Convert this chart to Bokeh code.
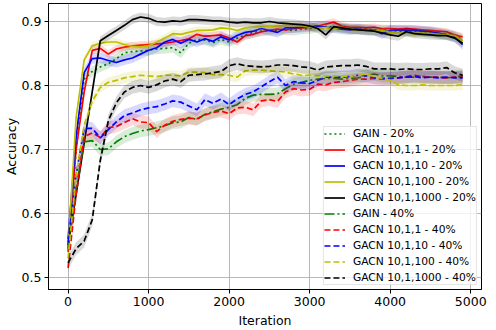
from bokeh.plotting import figure
from bokeh.models import Range1d, Legend, LegendItem, FixedTicker
from bokeh.embed import file_html
from bokeh.resources import INLINE
import numpy as np

iterations = list(range(0, 5000, 100))

gain_20 = [0.545, 0.700, 0.810, 0.822, 0.829, 0.834, 0.842, 0.851, 0.853, 0.854,
           0.855, 0.857, 0.858, 0.859, 0.851, 0.866, 0.872, 0.871, 0.867, 0.872,
           0.868, 0.874, 0.879, 0.883, 0.885, 0.886, 0.886, 0.887, 0.886, 0.888,
           0.889, 0.891, 0.892, 0.891, 0.890, 0.889, 0.888, 0.888, 0.887, 0.886,
           0.886, 0.885, 0.885, 0.884, 0.884, 0.883, 0.881, 0.880, 0.877, 0.872]
gacn_1_20 = [0.540, 0.700, 0.790, 0.855, 0.858, 0.849, 0.857, 0.860, 0.862, 0.863,
             0.864, 0.865, 0.866, 0.868, 0.870, 0.873, 0.880, 0.877, 0.878, 0.879,
             0.874, 0.868, 0.878, 0.880, 0.884, 0.886, 0.888, 0.887, 0.889, 0.890,
             0.891, 0.893, 0.896, 0.899, 0.893, 0.891, 0.891, 0.890, 0.891, 0.889,
             0.889, 0.888, 0.889, 0.888, 0.887, 0.886, 0.885, 0.884, 0.879, 0.876]
gacn_10_20 = [0.560, 0.720, 0.820, 0.842, 0.843, 0.839, 0.836, 0.840, 0.843, 0.849,
              0.855, 0.859, 0.868, 0.872, 0.866, 0.872, 0.868, 0.873, 0.869, 0.876,
              0.871, 0.878, 0.883, 0.885, 0.889, 0.886, 0.883, 0.890, 0.890, 0.891,
              0.892, 0.893, 0.891, 0.890, 0.888, 0.887, 0.888, 0.886, 0.886, 0.881,
              0.886, 0.887, 0.886, 0.886, 0.885, 0.884, 0.882, 0.879, 0.876, 0.864]
gacn_100_20 = [0.545, 0.750, 0.840, 0.862, 0.866, 0.868, 0.868, 0.864, 0.861, 0.860,
               0.862, 0.868, 0.874, 0.881, 0.880, 0.883, 0.886, 0.886, 0.887, 0.890,
               0.889, 0.886, 0.890, 0.891, 0.892, 0.892, 0.893, 0.894, 0.894, 0.893,
               0.891, 0.890, 0.890, 0.889, 0.891, 0.888, 0.886, 0.886, 0.885, 0.886,
               0.883, 0.882, 0.882, 0.881, 0.882, 0.881, 0.880, 0.879, 0.878, 0.870]
gacn_1000_20 = [0.550, 0.630, 0.710, 0.790, 0.870, 0.878, 0.886, 0.894, 0.903, 0.907,
                0.905, 0.900, 0.899, 0.901, 0.900, 0.903, 0.903, 0.902, 0.901, 0.901,
                0.899, 0.898, 0.899, 0.898, 0.898, 0.900, 0.898, 0.897, 0.896, 0.895,
                0.893, 0.889, 0.879, 0.892, 0.890, 0.888, 0.887, 0.886, 0.885, 0.882,
                0.879, 0.877, 0.884, 0.881, 0.880, 0.879, 0.878, 0.878, 0.874, 0.866]
gain_40 = [0.545, 0.640, 0.712, 0.714, 0.700, 0.701, 0.712, 0.720, 0.725, 0.729,
           0.731, 0.734, 0.737, 0.742, 0.743, 0.750, 0.747, 0.755, 0.759, 0.763,
           0.766, 0.770, 0.780, 0.785, 0.786, 0.786, 0.787, 0.795, 0.802, 0.805,
           0.808, 0.810, 0.811, 0.811, 0.810, 0.811, 0.812, 0.815, 0.818, 0.815,
           0.815, 0.814, 0.813, 0.813, 0.814, 0.813, 0.813, 0.812, 0.813, 0.815]
gacn_1_40 = [0.515, 0.630, 0.720, 0.726, 0.719, 0.734, 0.736, 0.742, 0.748, 0.743,
             0.742, 0.728, 0.738, 0.744, 0.747, 0.749, 0.748, 0.754, 0.758, 0.760,
             0.756, 0.765, 0.766, 0.762, 0.776, 0.778, 0.775, 0.790, 0.795, 0.793,
             0.794, 0.802, 0.801, 0.805, 0.806, 0.808, 0.810, 0.810, 0.811, 0.810,
             0.811, 0.812, 0.814, 0.816, 0.814, 0.813, 0.813, 0.812, 0.813, 0.813]
gacn_10_40 = [0.555, 0.660, 0.733, 0.733, 0.718, 0.731, 0.743, 0.753, 0.757, 0.762,
              0.765, 0.767, 0.771, 0.776, 0.774, 0.768, 0.762, 0.778, 0.772, 0.779,
              0.770, 0.779, 0.786, 0.790, 0.798, 0.806, 0.813, 0.800, 0.806, 0.804,
              0.803, 0.808, 0.813, 0.813, 0.813, 0.814, 0.816, 0.815, 0.812, 0.811,
              0.811, 0.812, 0.813, 0.814, 0.812, 0.813, 0.812, 0.813, 0.812, 0.812]
gacn_100_40 = [0.530, 0.660, 0.738, 0.775, 0.797, 0.805, 0.808, 0.812, 0.814, 0.816,
               0.815, 0.814, 0.816, 0.816, 0.815, 0.821, 0.821, 0.820, 0.817, 0.817,
               0.816, 0.813, 0.823, 0.824, 0.824, 0.823, 0.822, 0.821, 0.818, 0.816,
               0.816, 0.815, 0.815, 0.815, 0.815, 0.814, 0.816, 0.818, 0.814, 0.811,
               0.808, 0.801, 0.800, 0.800, 0.801, 0.800, 0.800, 0.800, 0.800, 0.801]
gacn_1000_40 = [0.523, 0.545, 0.557, 0.590, 0.683, 0.745, 0.773, 0.790, 0.797, 0.800,
                0.797, 0.801, 0.807, 0.810, 0.806, 0.816, 0.817, 0.818, 0.820, 0.822,
                0.831, 0.834, 0.831, 0.830, 0.829, 0.830, 0.832, 0.832, 0.831, 0.829,
                0.828, 0.824, 0.829, 0.830, 0.831, 0.831, 0.832, 0.830, 0.826, 0.826,
                0.826, 0.825, 0.826, 0.825, 0.825, 0.826, 0.826, 0.828, 0.820, 0.816]

labels = ["GAIN - 20%", "GACN 10,1,1 - 20%", "GACN 10,1,10 - 20%",
          "GACN 10,1,100 - 20%", "GACN 10,1,1000 - 20%",
          "GAIN - 40%", "GACN 10,1,1 - 40%", "GACN 10,1,10 - 40%",
          "GACN 10,1,100 - 40%", "GACN 10,1,1000 - 40%"]
series = [gain_20, gacn_1_20, gacn_10_20, gacn_100_20, gacn_1000_20,
          gain_40, gacn_1_40, gacn_10_40, gacn_100_40, gacn_1000_40]
spread = [0.008, 0.006, 0.008, 0.006, 0.007, 0.010, 0.010, 0.010, 0.008, 0.010]

colors = ["#008000", "#ff0000", "#0000ff", "#bfbf00", "#000000",
          "#008000", "#ff0000", "#0000ff", "#bfbf00", "#000000"]
dashes = ["2 3", "solid", "solid", "solid", "solid",
          "10 3 2 3", "6 3", "6 3", "6 3", "6 3"]

FONT = "DejaVu Sans"

p = figure(width=488, height=330, output_backend="svg", toolbar_location=None,
           x_range=Range1d(-243, 5134), y_range=Range1d(0.48125, 0.928125),
           min_border_left=39, min_border_right=7, min_border_top=3,
           min_border_bottom=41)
p.background_fill_color = "white"
p.border_fill_color = "white"
p.outline_line_color = "black"
p.outline_line_width = 1
p.outline_line_alpha = 1

p.xaxis.ticker = FixedTicker(ticks=[0, 1000, 2000, 3000, 4000, 5000])
p.yaxis.ticker = FixedTicker(ticks=[0.5, 0.6, 0.7, 0.8, 0.9])
p.xaxis.axis_label = "Iteration"
p.yaxis.axis_label = "Accuracy"
for ax in (p.xaxis, p.yaxis):
    ax.axis_label_text_font = FONT
    ax.axis_label_text_font_size = "12.5px"
    ax.axis_label_text_font_style = "normal"
    ax.axis_label_text_color = "black"
    ax.major_label_text_font = FONT
    ax.major_label_text_font_size = "12.5px"
    ax.major_label_text_color = "black"
    ax.major_tick_out = 4
    ax.major_tick_in = 0
    ax.minor_tick_line_color = None
    ax.axis_line_color = "black"
    ax.major_tick_line_color = "black"
    ax.major_label_standoff = 3
    ax.axis_label_standoff = 4
p.yaxis.axis_label_standoff = 0

p.grid.grid_line_color = "#b0b0b0"
p.grid.grid_line_width = 0.9

items = []
for vals, sd, c, d, lab in zip(series, spread, colors, dashes, labels):
    arr = np.array(vals)
    p.varea(x=iterations, y1=arr - sd, y2=arr + sd, fill_color=c, fill_alpha=0.15)
    r = p.line(iterations, vals, line_color=c, line_width=1.7, line_dash=d)
    items.append(LegendItem(label=lab, renderers=[r]))

legend = Legend(items=items, location="bottom_right")
legend.margin = 4
legend.padding = 0
legend.spacing = 3
legend.label_height = 13
legend.glyph_height = 13
legend.glyph_width = 21
legend.label_standoff = 8
legend.label_text_font = FONT
legend.label_text_font_size = "10.7px"
legend.label_text_color = "black"
legend.border_line_color = "#cccccc"
legend.border_line_width = 1
legend.background_fill_alpha = 0.8
p.add_layout(legend)

open("out.html", "w").write(file_html(p, INLINE))
